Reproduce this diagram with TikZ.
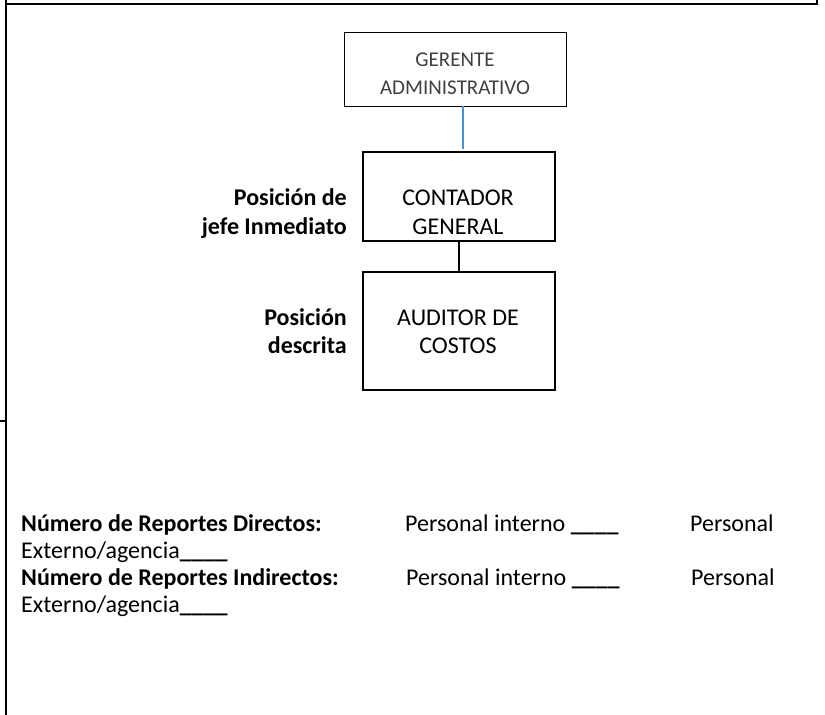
\documentclass[tikz,border=0pt]{standalone}
\usepackage{fontspec}
\setmainfont{Carlito}
\usetikzlibrary{calc}
\definecolor{linkblue}{HTML}{4A90D9}
\definecolor{softtext}{HTML}{404040}
\begin{document}
\begin{tikzpicture}[x=1pt,y=-1pt,
  frameline/.style={line width=1.5pt, line cap=rect},
  thinbox/.style={draw, line width=0.9pt, inner sep=0pt},
  thickbox/.style={draw, line width=2pt, inner sep=0pt},
  txt/.style={font=\fontsize{24}{28}\selectfont, inner sep=0pt},
  boldtxt/.style={font=\fontsize{24}{28}\selectfont\bfseries, inner sep=0pt},
  lighttxt/.style={font=\fontsize{21}{26}\selectfont, text=softtext, inner sep=0pt},
  blueconn/.style={draw=linkblue, line width=1.2pt},
  blackconn/.style={draw=black, line width=2pt}]
\useasboundingbox (0,0) rectangle (825,715);
% outer frame pieces
\draw[frameline] (6,0) -- (6,715);
\draw[frameline] (6,4) -- (817,4) -- (817,0);
\draw[frameline] (0,421) -- (6,421);
% boxes
\node[thinbox, minimum width=222pt, minimum height=74pt] (g) at (455,69) {};
\node[thickbox, minimum width=192pt, minimum height=89pt] (c) at (459,196.5) {};
\node[thickbox, minimum width=192pt, minimum height=118pt] (a) at (459,331) {};
% box texts
\node[lighttxt, anchor=base] (g1) at (455,66) {GERENTE};
\node[lighttxt, anchor=base] (g2) at (455,94) {ADMINISTRATIVO};
\node[txt, anchor=base] (c1) at (458,205) {CONTADOR};
\node[txt, anchor=base] (c2) at (458,234) {GENERAL};
\node[txt, anchor=base] (a1) at (458,325) {AUDITOR DE};
\node[txt, anchor=base] (a2) at (458,353) {COSTOS};
% side labels
\node[boldtxt, anchor=base east] (l1) at (347,205) {Posición de};
\node[boldtxt, anchor=base east] (l2) at (347,234) {jefe Inmediato};
\node[boldtxt, anchor=base east] (l3) at (347,325) {Posición};
\node[boldtxt, anchor=base east] (l4) at (347,353) {descrita};
% connectors
\draw[blueconn] ($(g.south)+(8,0)$) -- ($(c.north)+(4,-2)$);
\draw[blackconn] (c.south) -- (a.north);
% bottom text
\node[boldtxt, anchor=base west] (r1) at (21,531) {Número de Reportes Directos:};
\node[txt, anchor=base west] (r1b) at (405,531) {Personal interno \textbf{\_\_\_\_}};
\node[txt, anchor=base west] (r1c) at (690,531) {Personal};
\node[txt, anchor=base west] (r2) at (21,558) {Externo/agencia\textbf{\_\_\_\_}};
\node[boldtxt, anchor=base west] (r3) at (21,585) {Número de Reportes Indirectos:};
\node[txt, anchor=base west] (r3b) at (406,585) {Personal interno \textbf{\_\_\_\_}};
\node[txt, anchor=base west] (r3c) at (691,585) {Personal};
\node[txt, anchor=base west] (r4) at (21,612) {Externo/agencia\textbf{\_\_\_\_}};
\end{tikzpicture}
\end{document}
